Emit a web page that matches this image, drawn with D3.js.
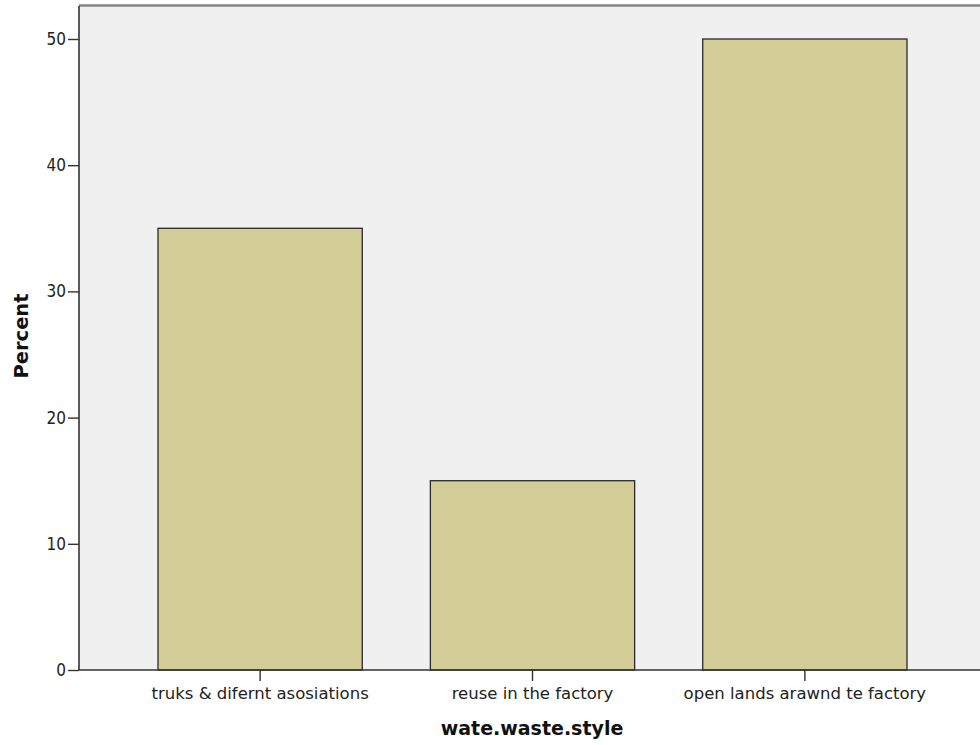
<!DOCTYPE html>
<html><head><meta charset="utf-8">
<script src="https://cdn.jsdelivr.net/npm/d3@7"></script>
<style>body{margin:0;background:#fff}svg{display:block}</style>
</head><body>
<script>
const categories = ["truks & difernt asosiations", "reuse in the factory", "open lands arawnd te factory"];
const values = [35, 15, 50];
const yTicks = [0, 10, 20, 30, 40, 50];
const xTitle = "wate.waste.style";
const yTitle = "Percent";

const W = 980, H = 745;
const svg = d3.select("body").append("svg").attr("width", W).attr("height", H);
const plot = {left: 79, top: 6, right: 980, bottom: 670};

svg.append("rect").attr("x", plot.left).attr("y", plot.top)
  .attr("width", plot.right - plot.left).attr("height", plot.bottom - plot.top)
  .attr("fill", "#f0f0f0");
svg.append("line").attr("x1", plot.left).attr("x2", plot.right).attr("y1", plot.top - 0.5).attr("y2", plot.top - 0.5)
  .attr("stroke", "#848484").attr("stroke-width", 2.5);

const x = d3.scaleBand().domain(categories).range([158, 907]).paddingInner(0.25).paddingOuter(0);
const y = d3.scaleLinear().domain([0, 50]).range([670, 39]);

svg.selectAll("rect.bar").data(categories).join("rect").attr("class", "bar")
  .attr("x", d => x(d)).attr("width", x.bandwidth())
  .attr("y", (d, i) => y(values[i])).attr("height", (d, i) => y(0) - y(values[i]))
  .attr("fill", "#d3cd98").attr("stroke", "#2a2a2a").attr("stroke-width", 1.3);

const font = "'DejaVu Sans', sans-serif";
const yAxis = svg.append("g").attr("transform", `translate(${plot.left},0)`)
  .call(d3.axisLeft(y).tickValues(yTicks).tickSize(11).tickPadding(2).tickFormat(d3.format("d")));
yAxis.select(".domain").attr("d", `M0,${plot.top}V${plot.bottom}`).attr("stroke", "#333").attr("stroke-width", 1.6);
yAxis.selectAll(".tick line").attr("stroke", "#333").attr("stroke-width", 1.4);
yAxis.selectAll("text").attr("font-family", "'DejaVu Sans Condensed', 'DejaVu Sans', sans-serif")
  .attr("font-size", 17).attr("fill", "#222");

const xAxis = svg.append("g").attr("transform", `translate(0,${plot.bottom})`)
  .call(d3.axisBottom(x).tickSize(11).tickPadding(6));
xAxis.select(".domain").attr("d", `M${plot.left},0H${plot.right}`).attr("stroke", "#333").attr("stroke-width", 1.6);
xAxis.selectAll(".tick line").attr("stroke", "#333").attr("stroke-width", 1.4);
xAxis.selectAll("text").attr("font-family", font).attr("font-size", 16.5).attr("fill", "#222");

svg.append("text").attr("x", 532).attr("y", 735).attr("text-anchor", "middle")
  .attr("font-family", font).attr("font-weight", "bold").attr("font-size", 19).attr("fill", "#111").text(xTitle);
svg.append("text").attr("transform", "translate(28,336) rotate(-90)").attr("text-anchor", "middle")
  .attr("font-family", font).attr("font-weight", "bold").attr("font-size", 19.5).attr("fill", "#111").text(yTitle);
</script>
</body></html>
